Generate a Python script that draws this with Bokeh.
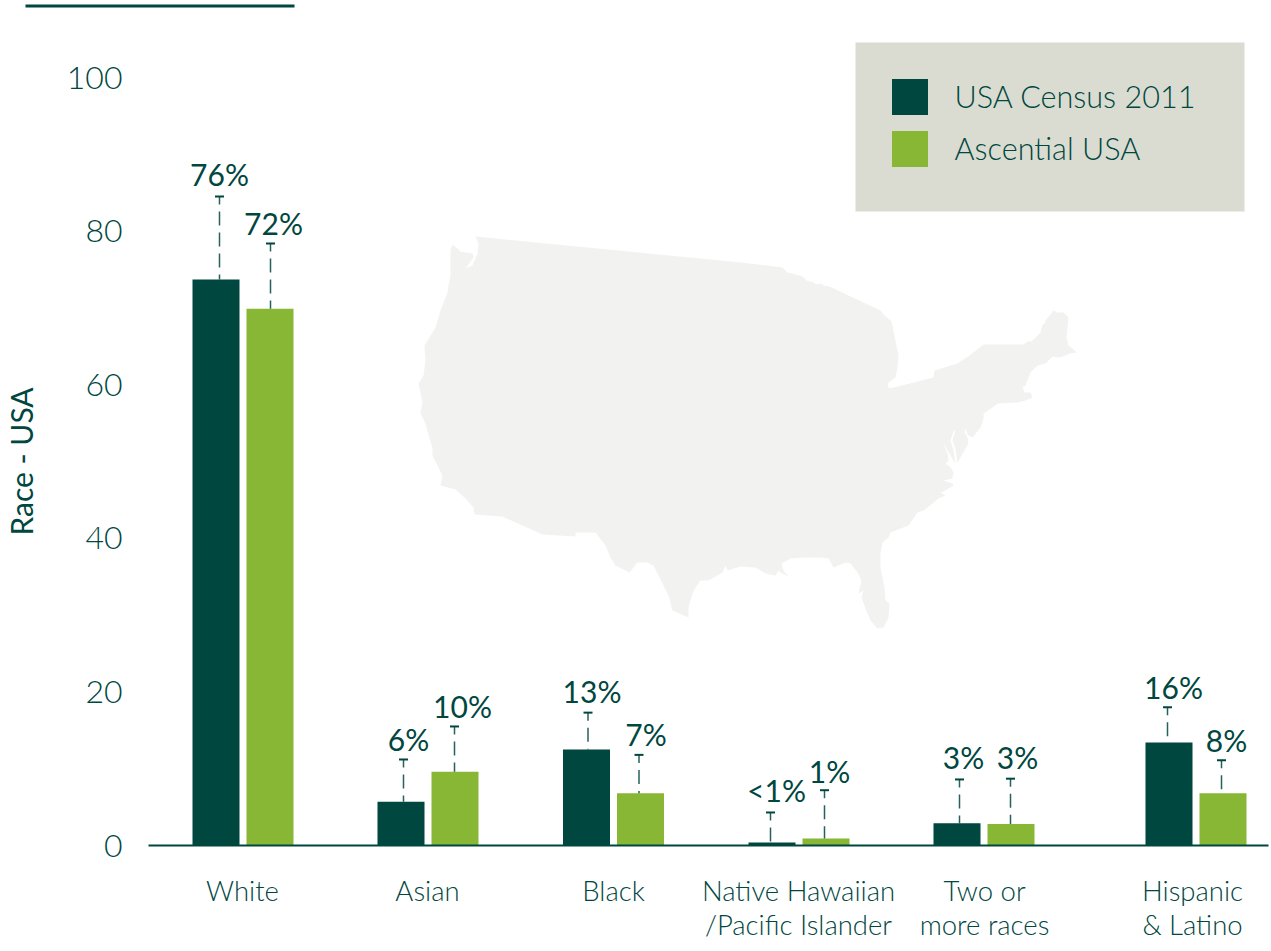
from bokeh.core.properties import value
from bokeh.embed import file_html
from bokeh.models import BoxAnnotation, ColumnDataSource, FixedTicker, Legend, LegendItem
from bokeh.plotting import figure
from bokeh.resources import INLINE

categories = ["White", "Asian", "Black", "Native Hawaiian\n/Pacific Islander", "Two or\nmore races", "Hispanic\n& Latino"]
census = [73.7, 5.7, 12.5, 0.4, 2.9, 13.4]
ascential = [69.9, 9.6, 6.8, 0.9, 2.8, 6.8]
census_labels = ["76%", "6%", "13%", "<1%", "3%", "16%"]
ascential_labels = ["72%", "10%", "7%", "1%", "3%", "8%"]
census_whisker = [84.5, 11.2, 17.3, 4.3, 8.6, 18.0]
ascential_whisker = [78.4, 15.5, 11.8, 7.2, 8.7, 11.1]
y_ticks = [0, 20, 40, 60, 80, 100]

# layout, in chart units (one unit on x is one pixel)
group_x = [242.5, 427.5, 613, 798.5, 983.5, 1195.5]
tick_x = [242, 427, 613, 798, 984, 1192]
census_whisker_dx = [3.5, 2.5, 1.5, -1.5, 2.5, -1.5]
ascential_whisker_dx = [0.5, -0.5, -1.5, -1.5, -0.5, -1.5]
census_label_dx = [0, 5, 4, 6, 4, 6]
ascential_label_dx = [3, 8, 7, 5, 7, 5]
census_label_dy = [-23, -20, -22, -22, -22, -20]
ascential_label_dy = [-20, -20, -21, -19, -22, -20]
BAR_W, BAR_OFF = 47, 27
PX = 7.68
BOTTOM = 845
WIDTH, HEIGHT = 1271, 951
DARK, GREEN = "#00473f", "#88b635"
FONT, LIGHT = "Lato", "Lato Light"

# silhouette of the contiguous USA, traced in picture pixels
map_px = [(475,236),(740,262),(782,267),(787,272),(795,274),(802,276),(806,280),(813,282),(815,284),(821,283),(823,285),(829,286),
(880,310),(883,314),(891,321),(898,355),(897,367),(895,377),(888,382),(887,385),(889,388),(933,377),(934,370),(957,363),(969,355),
(983,344),(1023,344),(1027,341),(1031,341),(1040,332),(1042,324),(1044,323),(1045,320),(1053,310),(1057,312),(1063,312),(1068,317),
(1066,337),(1068,345),(1072,348),(1076,352),(1070,353),(1062,356),(1058,357),(1052,356),(1045,363),(1037,365),(1030,372),(1027,380),
(1025,385),(1022,387),(1024,392),(1030,392),(1032,397),(1025,400),(1017,402),(997,403),(992,407),(983,413),(983,418),(980,427),(972,437),
(967,434),(965,428),(964,432),(967,437),(968,443),(963,452),(958,460),(957,463),(955,448),(952,440),(955,430),(953,431),(950,440),(953,450),
(955,463),(950,455),(942,441),(947,453),(948,460),(945,463),(950,467),(953,472),(952,478),(943,480),(952,483),(953,485),(945,490),(940,492),
(945,495),(938,498),(932,503),(923,510),(917,512),(908,525),(900,528),(890,532),
(888,537),(882,542),(880,553),(880,567),(884,587),(885,600),(889,603),(888,617),(883,627),(877,628),(870,620),(865,608),(861,597),(863,590),
(858,593),(861,580),(857,572),(850,563),(845,562),(833,567),(828,558),(820,557),(802,557),(790,558),(781,563),(783,570),(788,576),(780,572),
(778,570),(775,575),(765,573),(755,567),(740,566),(727,570),(725,565),(722,572),(708,580),(700,580),(695,587),(692,593),(688,607),(688,617),
(672,610),(668,595),(658,575),(653,565),(647,562),(637,562),(629,572),(615,565),(610,557),(605,545),(595,532),(575,532),(575,536),(542,534),
(502,516),(474,514),(473,507),(465,498),(455,489),(440,485),(442,475),(432,455),(432,447),(428,435),(425,423),(420,413),(422,402),(418,383),
(423,375),(425,360),(424,345),(435,327),(440,310),(447,292),(448,285),(450,275),(450,250),(452,244),(460,251),(472,253),(473,257),(465,268),
(472,265),(477,253),(478,243)]

to_y = lambda py: (BOTTOM - py) / PX

p = figure(width=WIDTH, height=HEIGHT, output_backend="svg", toolbar_location=None,
           x_range=(0, WIDTH), y_range=(to_y(HEIGHT), to_y(0)),
           min_border_left=0, min_border_right=0, min_border_top=0, min_border_bottom=0)
p.outline_line_color = None
p.grid.visible = False

p.patch([q[0] for q in map_px], [to_y(q[1]) for q in map_px], fill_color="#f2f2f0", line_color=None, level="underlay")

p.add_layout(BoxAnnotation(left=855, right=1244, top=to_y(42), bottom=to_y(211), fill_color="#dadcd1", fill_alpha=1,
                           line_color=None, level="underlay"))
p.line([25, 294], [to_y(5.5), to_y(5.5)], line_color=DARK, line_width=3)

cx = [g - BAR_OFF for g in group_x]
ax = [g + BAR_OFF for g in group_x]
r1 = p.vbar(x=cx, top=census, width=BAR_W, bottom=0, fill_color=DARK, line_color=None)
r2 = p.vbar(x=ax, top=ascential, width=BAR_W, bottom=0, fill_color=GREEN, line_color=None)

for xs, tops, whisk, wdx, ldx, ldy, labs in [
        (cx, census, census_whisker, census_whisker_dx, census_label_dx, census_label_dy, census_labels),
        (ax, ascential, ascential_whisker, ascential_whisker_dx, ascential_label_dx, ascential_label_dy, ascential_labels)]:
    wx = [a + b for a, b in zip(xs, wdx)]
    p.segment(x0=wx, y0=whisk, x1=wx, y1=tops, line_color=DARK, line_width=1.5, line_dash="14 7", line_dash_offset=6,
              line_alpha=0.85)
    p.scatter(x=wx, y=whisk, marker="dash", size=9, line_color=DARK, line_width=2)
    src = ColumnDataSource(dict(x=[a + b for a, b in zip(wx, ldx)], y=whisk, t=labs, dy=ldy))
    p.text(x="x", y="y", text="t", source=src, text_align="center", text_baseline="alphabetic", y_offset="dy",
           text_color=DARK, text_font=value(FONT), text_font_size="30px")

leg = Legend(items=[LegendItem(label="USA Census 2011", renderers=[r1]), LegendItem(label="Ascential USA", renderers=[r2])],
             location=(886.5, HEIGHT - 170.5), orientation="vertical", background_fill_alpha=0, border_line_color=None,
             padding=0, margin=0, spacing=7, glyph_width=45, glyph_height=45, label_height=45, label_standoff=23,
             label_text_font=LIGHT, label_text_font_size="30.6px", label_text_color=DARK, label_text_baseline="middle")
p.add_layout(leg)

xa = p.xaxis[0]
xa.fixed_location = 0
xa.ticker = FixedTicker(ticks=tick_x)
xa.bounds = (148, 1268)
xa.major_label_overrides = dict(zip(tick_x, categories))
xa.major_tick_in = 0
xa.major_tick_out = 0
xa.minor_tick_line_color = None
xa.major_tick_line_color = None
xa.axis_line_color = DARK
xa.axis_line_width = 2
xa.major_label_standoff = 28
xa.major_label_text_font = LIGHT
xa.major_label_text_font_size = "27.5px"
xa.major_label_text_color = DARK
xa.major_label_text_line_height = 1.05

ya = p.yaxis[0]
ya.fixed_location = 148
ya.ticker = FixedTicker(ticks=y_ticks)
ya.bounds = (0, 100)
ya.axis_line_color = None
ya.major_tick_in = 0
ya.major_tick_out = 0
ya.major_tick_line_color = None
ya.minor_tick_line_color = None
ya.major_label_standoff = 26
ya.major_label_text_font = LIGHT
ya.major_label_text_font_size = "32px"
ya.major_label_text_color = DARK
ya.axis_label = "Race - USA"
ya.axis_label_text_font = FONT
ya.axis_label_text_font_style = "normal"
ya.axis_label_text_font_size = "30px"
ya.axis_label_text_color = DARK
ya.axis_label_standoff = 25

open("out.html", "w").write(file_html(p, INLINE))
